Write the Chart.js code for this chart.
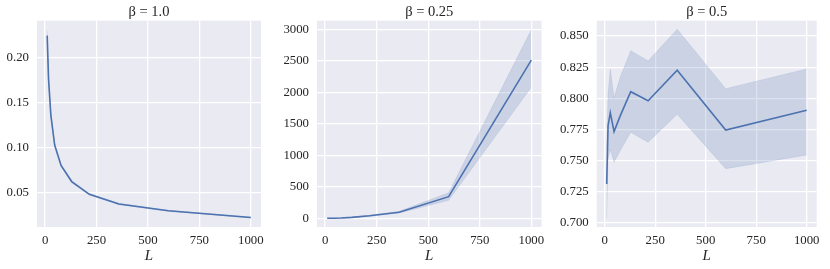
<!DOCTYPE html>
<html>
<head>
<meta charset="utf-8">
<script src="https://cdn.jsdelivr.net/npm/chart.js@4"></script>
<style>
  body { margin: 0; background: #fff; }
  .panel { position: absolute; top: 0; }
</style>
</head>
<body>
<canvas id="c1" class="panel" width="270" height="269" style="left:0px"></canvas>
<canvas id="c2" class="panel" width="280" height="269" style="left:270px"></canvas>
<canvas id="c3" class="panel" width="280" height="269" style="left:550px"></canvas>
<script>
// sequence lengths (log spaced)
const Ls = [10, 16.7, 27.8, 46.4, 77.4, 129, 215, 359, 599, 1000];
const xTicks = [0, 250, 500, 750, 1000];

// beta = 1.0
const mean1 = [0.2245, 0.176, 0.136, 0.1027, 0.080, 0.062, 0.0478, 0.037, 0.0295, 0.022];
const lo1   = [0.219, 0.173, 0.134, 0.1015, 0.079, 0.061, 0.047, 0.0363, 0.029, 0.0215];
const hi1   = [0.230, 0.179, 0.138, 0.104, 0.081, 0.063, 0.0486, 0.0377, 0.030, 0.0225];
const yTicks1 = [0.05, 0.10, 0.15, 0.20];

// beta = 0.25
const mean2 = [0, 0.1, 0.5, 2, 5, 15, 40, 97, 343, 2510];
const lo2   = [0, 0.1, 0.4, 1.5, 4, 12, 34, 85, 285, 2080];
const hi2   = [0, 0.2, 0.6, 2.5, 6, 18, 46, 110, 405, 2990];
const yTicks2 = [0, 500, 1000, 1500, 2000, 2500, 3000];

// beta = 0.5
const mean3 = [0.731, 0.7778, 0.7884, 0.7732, 0.786, 0.8053, 0.798, 0.8225, 0.7745, 0.7904];
const lo3   = [0.7035, 0.752, 0.759, 0.7486, 0.758, 0.7727, 0.7646, 0.7871, 0.7434, 0.7544];
const hi3   = [0.7585, 0.803, 0.8233, 0.8005, 0.817, 0.8383, 0.830, 0.8555, 0.8077, 0.8236];
const yTicks3 = [0.700, 0.725, 0.750, 0.775, 0.800, 0.825, 0.850];

const LINE = '#4C72B0';
const BAND = 'rgba(76,114,176,0.2)';
const TEXT = '#262626';
const FONT = "'Liberation Serif', 'DejaVu Serif', serif";

const bgPlugin = {
  id: 'bg',
  beforeDraw(chart) {
    const a = chart.chartArea;
    const ctx = chart.ctx;
    ctx.save();
    ctx.fillStyle = '#EAEAF2';
    ctx.fillRect(a.left, a.top, a.right - a.left, a.bottom - a.top);
    ctx.restore();
  }
};

function pts(ys) {
  return Ls.map((x, i) => ({ x: x, y: ys[i] }));
}

function makePanel(id, title, mean, lo, hi, yTicks, yMin, yMax, decimals, yWidth, rightPad) {
  new Chart(document.getElementById(id), {
    type: 'line',
    data: {
      datasets: [
        { data: pts(mean), borderColor: LINE, borderWidth: 1.6, pointRadius: 0, fill: false },
        { data: pts(hi), borderColor: BAND, borderWidth: 0.6, pointRadius: 0, backgroundColor: BAND, fill: '+1' },
        { data: pts(lo), borderColor: BAND, borderWidth: 0.6, pointRadius: 0, fill: false }
      ]
    },
    options: {
      responsive: false,
      animation: false,
      layout: { padding: { right: rightPad, top: 0, bottom: 0, left: 0 } },
      plugins: {
        legend: { display: false },
        tooltip: { enabled: false },
        title: {
          display: true,
          text: title,
          fullSize: false,
          color: TEXT,
          font: { family: FONT, size: 14.5, weight: 'normal', lineHeight: 1.1 },
          padding: { top: 4, bottom: 0.7 }
        }
      },
      scales: {
        x: {
          type: 'linear',
          min: -39.5,
          max: 1049.5,
          afterBuildTicks: s => { s.ticks = xTicks.map(v => ({ value: v })); },
          afterFit: s => { s.height = 42; },
          border: { display: false },
          grid: { color: '#ffffff', lineWidth: 1.3, drawTicks: false },
          ticks: {
            color: TEXT, padding: 5.5, font: { family: FONT, size: 12.8 }, maxRotation: 0,
            callback: v => String(v)
          },
          title: {
            display: true, text: 'L', color: TEXT,
            font: { family: FONT, size: 15, style: 'italic' },
            padding: { top: 0, bottom: 3.5 }
          }
        },
        y: {
          type: 'linear',
          min: yMin,
          max: yMax,
          afterBuildTicks: s => { s.ticks = yTicks.map(v => ({ value: v })); },
          afterFit: s => { s.width = yWidth; },
          border: { display: false },
          grid: { color: '#ffffff', lineWidth: 1.3, drawTicks: false },
          ticks: {
            color: TEXT, padding: 8, font: { family: FONT, size: 12.8 },
            callback: v => v.toFixed(decimals)
          }
        }
      }
    },
    plugins: [bgPlugin]
  });
}

makePanel('c1', '\u03B2 = 1.0', mean1, lo1, hi1, yTicks1, 0.0114, 0.2412, 2, 37, 9);
makePanel('c2', '\u03B2 = 0.25', mean2, lo2, hi2, yTicks2, -138, 3136, 0, 47, 8.3);
makePanel('c3', '\u03B2 = 0.5', mean3, lo3, hi3, yTicks3, 0.6965, 0.8624, 3, 46.7, 13.3);
</script>
</body>
</html>
